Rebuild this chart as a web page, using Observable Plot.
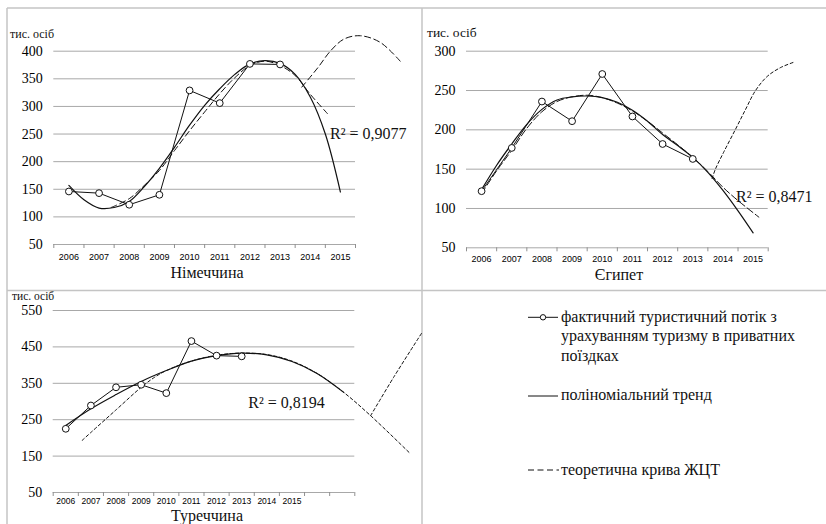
<!DOCTYPE html>
<html>
<head>
<meta charset="utf-8">
<script src="https://cdn.jsdelivr.net/npm/d3@7"></script>
<script src="https://cdn.jsdelivr.net/npm/@observablehq/plot@0.6"></script>
<style>
  html, body { margin: 0; padding: 0; background: #fff; }
  #wrap { position: relative; width: 826px; height: 524px; overflow: hidden; background: #fff; }
  .lbl { position: absolute; white-space: nowrap; line-height: 1; color: #111; }
  .mid { transform: translateX(-50%); }
</style>
</head>
<body>
<div id="wrap">
  <div class="lbl" style="font-family:'Liberation Serif'; font-size:12px; left:10px; top:27.5px">тис. осіб</div>
  <div class="lbl" style="font-family:'Liberation Serif'; font-size:13.5px; left:427px; top:26.2px">тис. осіб</div>
  <div class="lbl" style="font-family:'Liberation Serif'; font-size:11.5px; left:12px; top:290.9px">тис. осіб</div>
  <div class="lbl mid" style="font-family:'Liberation Serif'; font-size:16px; left:207px; top:264.9px">Німеччина</div>
  <div class="lbl mid" style="font-family:'Liberation Serif'; font-size:16px; left:619px; top:267.3px">Єгипет</div>
  <div class="lbl mid" style="font-family:'Liberation Serif'; font-size:16px; left:207px; top:507.8px">Туреччина</div>
  <div class="lbl" style="font-family:'Liberation Serif'; font-size:16px; left:561px; top:308.6px">фактичний туристичний потік з</div>
  <div class="lbl" style="font-family:'Liberation Serif'; font-size:16px; left:561px; top:328.1px">урахуванням туризму в приватних</div>
  <div class="lbl" style="font-family:'Liberation Serif'; font-size:16px; left:561px; top:347.6px">поїздках</div>
  <div class="lbl" style="font-family:'Liberation Serif'; font-size:16px; left:561px; top:386.6px">поліноміальний тренд</div>
  <div class="lbl" style="font-family:'Liberation Serif'; font-size:16px; left:561px; top:461.6px">теоретична крива ЖЦТ</div>
  <div class="lbl" id="r2-0" style="font-family:'Liberation Serif'; font-size:16px; left:330px; top:125.6px">R² = 0,9077</div>
  <div class="lbl" id="r2-1" style="font-family:'Liberation Serif'; font-size:16px; left:736px; top:189.6px">R² = 0,8471</div>
  <div class="lbl" id="r2-2" style="font-family:'Liberation Serif'; font-size:16px; left:248px; top:394.6px">R² = 0,8194</div>
</div>
<script>
// ---------- data ----------
const actualYears = [2006, 2007, 2008, 2009, 2010, 2011, 2012, 2013];
const labelYears = [2006, 2007, 2008, 2009, 2010, 2011, 2012, 2013, 2014, 2015];

// Німеччина
const germanyActual = [146, 143, 122, 140, 329, 306, 377, 376];
const germanyTrendYears = [2006, 2006.5, 2007, 2007.5, 2008, 2008.5, 2009, 2009.5, 2010, 2010.5, 2011, 2011.5, 2012, 2012.5, 2013, 2013.5, 2014, 2014.5, 2015];
const germanyTrend = [157, 131, 116, 117, 128, 155, 188, 226, 266, 302, 332, 358, 377, 383, 378, 358, 317, 250, 145];
const germanyTheory1Years = [2007.4, 2008, 2008.5, 2009, 2009.5, 2010, 2010.5, 2011, 2011.5, 2012, 2012.5, 2013, 2013.5, 2014, 2014.57];
const germanyTheory1 = [117, 133, 157, 184, 220, 256, 290, 323, 352, 374, 382, 374, 356, 322, 287];
const germanyTheory2Years = [2013.72, 2014.25, 2014.68, 2015.12, 2015.66, 2016.32, 2016.98];
const germanyTheory2 = [335, 370, 401, 422, 428, 416, 382];
const germanyYTicks = [50, 100, 150, 200, 250, 300, 350, 400];

// Єгипет
const egyptActual = [122, 177, 236, 211, 271, 217, 182, 163];
const egyptTrendYears = [2006, 2006.5, 2007, 2007.5, 2008, 2008.5, 2009, 2009.5, 2010, 2010.5, 2011, 2011.5, 2012, 2012.5, 2013, 2013.5, 2014, 2014.5, 2015];
const egyptTrend = [124, 155, 182, 207, 226, 238, 242, 243, 241, 235, 225, 211, 194, 180, 165, 146, 123, 97, 69];
const egyptTheory1Years = [2006, 2006.5, 2007, 2007.5, 2008, 2008.5, 2009, 2009.5, 2010, 2010.5, 2011, 2011.5, 2012, 2012.5, 2013, 2013.5, 2014, 2014.5, 2015.19];
const egyptTheory1 = [119, 148, 174, 202, 223, 236, 242, 244, 241, 234, 224, 211, 196, 181, 165, 147, 127, 110, 89];
const egyptTheory2Years = [2013.64, 2013.75, 2014.03, 2014.42, 2014.75, 2015.08, 2015.47, 2015.9, 2016.35];
const egyptTheory2 = [138, 150, 172, 201, 226, 250, 268, 279, 286];
const egyptYTicks = [50, 100, 150, 200, 250, 300];

// Туреччина
const turkeyActual = [225, 289, 339, 346, 323, 466, 426, 424];
const turkeyTrendYears = [2006, 2007, 2008, 2009, 2010, 2011, 2012, 2013, 2014, 2015, 2016, 2017.06];
const turkeyTrend = [234, 280, 319, 355, 385, 411, 426, 433, 428, 410, 377, 325];
const turkeyTheory1Years = [2006.65, 2007, 2008, 2009, 2009.5, 2010, 2011, 2012, 2013, 2014, 2015, 2016, 2017.06, 2018.13, 2019.72];
const turkeyTheory1 = [193, 215, 277, 339, 365, 385, 411, 427, 433, 429, 411, 377, 325, 261, 156];
const turkeyTheory2Years = [2018.13, 2019.05, 2020.18];
const turkeyTheory2 = [261, 367, 490];
const turkeyYTicks = [50, 150, 250, 350, 450, 550];

// R² label anchors (data space: year, value at text baseline)
const r2AnchorYears = [2014.67, 2014.45, 2013.28];
const r2AnchorValues = [240, 106.5, 281];

// ---------- drawing ----------
const W = 826, H = 524;
const zipXY = (xs, ys) => xs.map((x, i) => ({x, y: ys[i]}));
const wrap = document.getElementById("wrap");

// frame + legend swatches (drawn first, underneath)
const ov = d3.create("svg").attr("width", W).attr("height", H)
  .style("position", "absolute").style("left", "0px").style("top", "0px").style("overflow", "visible");
const border = "#c4c4c4";
[[7, 8, 826, 8], [7, 8, 7, 524], [422, 8, 422, 524], [7, 290.5, 826, 290.5]].forEach(([x1, y1, x2, y2]) =>
  ov.append("line").attr("x1", x1).attr("y1", y1).attr("x2", x2).attr("y2", y2)
    .attr("stroke", border).attr("stroke-width", 1.5));
const lg = ov.append("g").attr("stroke", "#111").attr("fill", "none");
lg.append("line").attr("x1", 528).attr("x2", 558).attr("y1", 317.3).attr("y2", 317.3).attr("stroke-width", 1);
lg.append("circle").attr("cx", 543).attr("cy", 317.3).attr("r", 2.7).attr("fill", "white").attr("stroke-width", 1);
lg.append("line").attr("x1", 528).attr("x2", 558).attr("y1", 396).attr("y2", 396).attr("stroke-width", 1);
lg.append("line").attr("x1", 528).attr("x2", 559).attr("y1", 470).attr("y2", 470).attr("stroke-width", 1).attr("stroke-dasharray", "6,3.5");
wrap.insertBefore(ov.node(), wrap.firstChild);

function panel(cfg, idx) {
  const halfTicks = d3.range(cfg.xDomain[0], cfg.xDomain[1] + 0.01, 1);
  const svg = Plot.plot({
    width: W, height: H,
    marginLeft: cfg.left, marginRight: W - cfg.right,
    marginTop: cfg.top, marginBottom: H - cfg.bottom,
    x: {type: "linear", domain: cfg.xDomain, label: null},
    y: {type: "linear", domain: cfg.yDomain, label: null},
    marks: [
      Plot.gridY(cfg.yTicks, {stroke: "#a8a8a8", strokeOpacity: 1, strokeWidth: 1}),
      Plot.axisY(cfg.yTicks, {tickSize: 0, tickPadding: 11, fontSize: 14, fontFamily: "Liberation Serif", label: null, tickFormat: d => String(d)}),
      Plot.axisX(halfTicks, {tickSize: 4, stroke: "#909090", tickFormat: () => "", label: null}),
      Plot.axisX(labelYears, {tickSize: 0, tickPadding: cfg.xPad, fontSize: cfg.xFont, fontFamily: "Liberation Sans", label: null, tickFormat: d => String(d)}),
      Plot.line(zipXY(cfg.th1x, cfg.th1y), {x: "x", y: "y", curve: "catmull-rom", stroke: "#111", strokeWidth: 1, strokeDasharray: cfg.dash1}),
      Plot.line(zipXY(cfg.th2x, cfg.th2y), {x: "x", y: "y", curve: "catmull-rom", stroke: "#111", strokeWidth: 1, strokeDasharray: cfg.dash2}),
      Plot.line(zipXY(cfg.trx, cfg.try), {x: "x", y: "y", curve: "catmull-rom", stroke: "#111", strokeWidth: 1.2}),
      Plot.line(zipXY(actualYears, cfg.actual), {x: "x", y: "y", stroke: "#111", strokeWidth: 1}),
      Plot.dot(zipXY(actualYears, cfg.actual), {x: "x", y: "y", r: 3.4, fill: "white", stroke: "#111", strokeWidth: 1})
    ]
  });
  svg.style.position = "absolute";
  svg.style.left = "0px";
  svg.style.top = "0px";
  svg.style.background = "transparent";
  svg.style.maxWidth = "none";
  svg.style.overflow = "visible";
  svg.querySelectorAll('g[aria-label="y-axis tick label"] text').forEach(t => t.setAttribute("style", "font-family:'Liberation Serif'"));
  wrap.insertBefore(svg, ov.node().nextSibling);
  // place the R² label through the plot's own scales
  const sx = svg.scale("x"), sy = svg.scale("y");
  const lab = document.getElementById("r2-" + idx);
  lab.style.left = sx.apply(r2AnchorYears[idx]) + "px";
  lab.style.top = (sy.apply(r2AnchorValues[idx]) - 0.8375 * 16) + "px";
}

panel({
  left: 53.3, right: 355, top: 50.7, bottom: 244, xPad: 9, xFont: 9,
  xDomain: [2005.5, 2015.5], yDomain: [50, 400], yTicks: germanyYTicks,
  actual: germanyActual, trx: germanyTrendYears, try: germanyTrend,
  th1x: germanyTheory1Years, th1y: germanyTheory1, th2x: germanyTheory2Years, th2y: germanyTheory2,
  dash1: "6,3.5", dash2: "6,3.5"
}, 0);
panel({
  left: 466, right: 767.7, top: 50.7, bottom: 247.3, xPad: 7.5, xFont: 9,
  xDomain: [2005.5, 2015.5], yDomain: [50, 300], yTicks: egyptYTicks,
  actual: egyptActual, trx: egyptTrendYears, try: egyptTrend,
  th1x: egyptTheory1Years, th1y: egyptTheory1, th2x: egyptTheory2Years, th2y: egyptTheory2,
  dash1: "7,3", dash2: "3,2.5"
}, 1);
panel({
  left: 52.7, right: 354.3, top: 310, bottom: 492, xPad: 5, xFont: 8.5,
  xDomain: [2005.5, 2017.5], yDomain: [50, 550], yTicks: turkeyYTicks,
  actual: turkeyActual, trx: turkeyTrendYears, try: turkeyTrend,
  th1x: turkeyTheory1Years, th1y: turkeyTheory1, th2x: turkeyTheory2Years, th2y: turkeyTheory2,
  dash1: "3,2.5", dash2: "3,2.5"
}, 2);
</script>
</body>
</html>
